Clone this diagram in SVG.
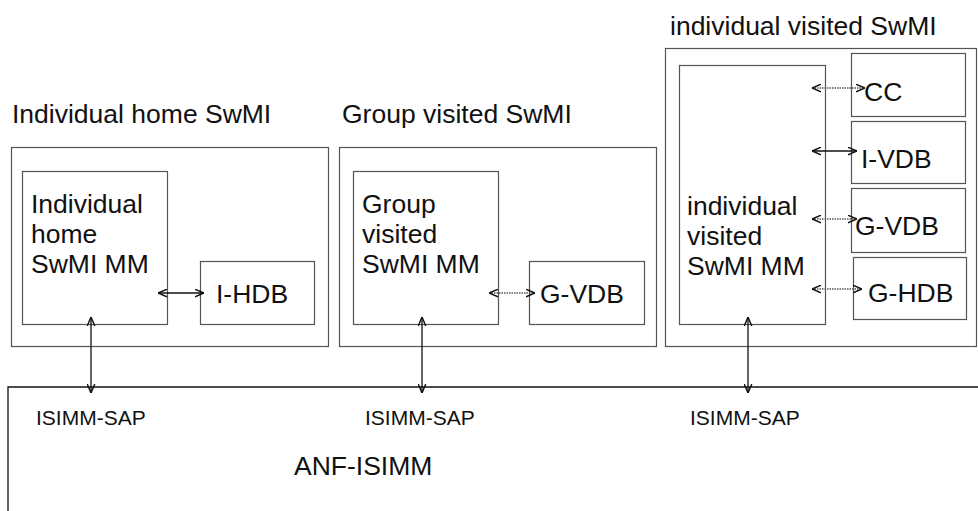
<svg xmlns="http://www.w3.org/2000/svg" width="978" height="511" viewBox="0 0 978 511">
<style>
.box{fill:#fff;stroke:#555;stroke-width:1.2}
.t{font-family:"Liberation Sans",Arial,sans-serif;fill:#111}
.title{font-size:26.5px}
.lbl{font-size:26.5px}
.sap{font-size:21px}
.solid{stroke:#111;stroke-width:1.3;fill:none}
.dot{stroke:#555;stroke-width:1.3;stroke-dasharray:1.5 1;fill:none}
</style>
<defs>
<marker id="ah" viewBox="0 0 10 10" refX="10" refY="5" markerWidth="9" markerHeight="9" markerUnits="userSpaceOnUse" orient="auto-start-reverse">
<path d="M0,0.8 L10,5 L0,9.2" fill="none" stroke="#111" stroke-width="1.6"/>
</marker>
</defs>

<g id="anf-isimm">
<path d="M8,511 V387 H978" fill="none" stroke="#111" stroke-width="1.3"/>
<text class="t sap" x="36" y="425">ISIMM-SAP</text>
<text class="t sap" x="365" y="425">ISIMM-SAP</text>
<text class="t sap" x="690" y="425">ISIMM-SAP</text>
<text class="t lbl" x="294" y="475">ANF-ISIMM</text>
</g>

<g id="individual-home-swmi">
<text class="t title" x="12" y="123">Individual home SwMI</text>
<rect class="box" x="11.5" y="147.5" width="317" height="199"/>
</g>
<g id="individual-home-mm">
<rect class="box" x="22.5" y="171.5" width="145" height="153"/>
<text class="t lbl" x="31" y="213">Individual</text>
<text class="t lbl" x="31" y="243">home</text>
<text class="t lbl" x="31" y="273">SwMI MM</text>
</g>
<g id="i-hdb">
<rect class="box" x="200.5" y="261.5" width="114" height="63"/>
<text class="t lbl" x="216" y="303">I-HDB</text>
</g>

<g id="group-visited-swmi">
<text class="t title" x="342" y="123">Group visited SwMI</text>
<rect class="box" x="339.5" y="147.5" width="317" height="199"/>
</g>
<g id="group-visited-mm">
<rect class="box" x="353.5" y="171.5" width="145" height="153"/>
<text class="t lbl" x="362" y="213">Group</text>
<text class="t lbl" x="362" y="243">visited</text>
<text class="t lbl" x="362" y="273">SwMI MM</text>
</g>
<g id="g-vdb-1">
<rect class="box" x="529.5" y="261.5" width="115" height="63"/>
<text class="t lbl" x="540" y="303">G-VDB</text>
</g>

<g id="individual-visited-swmi">
<text class="t title" x="670" y="35">individual visited SwMI</text>
<rect class="box" x="665.5" y="48.5" width="311" height="298"/>
</g>
<g id="individual-visited-mm">
<rect class="box" x="679.5" y="65.5" width="146" height="259"/>
<text class="t lbl" x="687" y="215">individual</text>
<text class="t lbl" x="687" y="245">visited</text>
<text class="t lbl" x="687" y="275">SwMI MM</text>
</g>
<g id="cc">
<rect class="box" x="851.5" y="53.5" width="114" height="63"/>
<text class="t lbl" x="864" y="101">CC</text>
</g>
<g id="i-vdb">
<rect class="box" x="851.5" y="121.5" width="114" height="62"/>
<text class="t lbl" x="861" y="168">I-VDB</text>
</g>
<g id="g-vdb-2">
<rect class="box" x="851.5" y="188.5" width="114" height="64"/>
<text class="t lbl" x="855" y="235">G-VDB</text>
</g>
<g id="g-hdb">
<rect class="box" x="853.5" y="257.5" width="113" height="62"/>
<text class="t lbl" x="868" y="302">G-HDB</text>
</g>

<g id="connectors">
<line class="solid" x1="158" y1="293" x2="204" y2="293" marker-start="url(#ah)" marker-end="url(#ah)"/>
<line class="dot" x1="489" y1="293" x2="535" y2="293" marker-start="url(#ah)" marker-end="url(#ah)"/>
<line class="dot" x1="812" y1="88" x2="865" y2="88" marker-start="url(#ah)" marker-end="url(#ah)"/>
<line class="solid" x1="812" y1="151" x2="857" y2="151" marker-start="url(#ah)" marker-end="url(#ah)"/>
<line class="dot" x1="812" y1="219" x2="857" y2="219" marker-start="url(#ah)" marker-end="url(#ah)"/>
<line class="dot" x1="812" y1="289" x2="862" y2="289" marker-start="url(#ah)" marker-end="url(#ah)"/>
<line class="solid" x1="91" y1="317" x2="91" y2="393" marker-start="url(#ah)" marker-end="url(#ah)"/>
<line class="solid" x1="422" y1="317" x2="422" y2="393" marker-start="url(#ah)" marker-end="url(#ah)"/>
<line class="solid" x1="748" y1="317" x2="748" y2="393" marker-start="url(#ah)" marker-end="url(#ah)"/>
</g>
</svg>
